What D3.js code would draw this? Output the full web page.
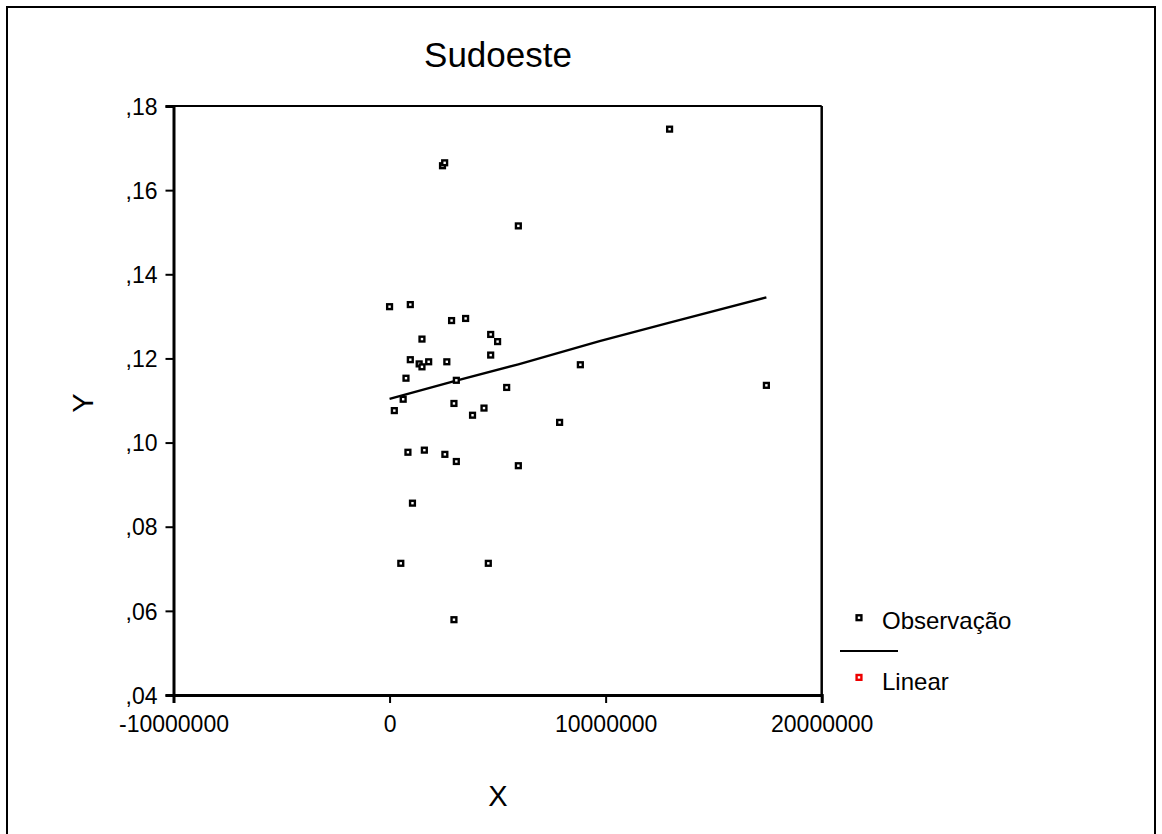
<!DOCTYPE html>
<html>
<head>
<meta charset="utf-8">
<script src="https://cdn.jsdelivr.net/npm/d3@7"></script>
<style>
  body { margin: 0; background: #fff; }
  svg { font-family: "Liberation Sans", Arial, sans-serif; }
</style>
</head>
<body>
<svg width="1162" height="834"></svg>
<script>
const obsX = [2450000, 2550000, 5960000, 12960000, 17440000,
  0, 960000, 2870000, 3520000, 1500000, 4680000, 5000000, 4680000,
  960000, 1370000, 1500000, 1810000, 2650000, 8830000, 760000, 3090000,
  5420000, 630000, 220000, 2980000, 4370000, 3840000, 7870000,
  850000, 1610000, 2560000, 3090000, 5960000,
  1060000, 520000, 4570000, 2980000]
const obsY = [.1658, .1665, .1515, .1745, .1136,
  .1323, .1328, .1290, .1295, .1246, .1257, .1240, .1208,
  .1197, .1187, .1180, .1192, .1192, .1185, .1153, .1148,
  .1131, .1103, .1076, .1093, .1082, .1065, .1048,
  .0977, .0982, .0972, .0955, .0945,
  .0856, .0713, .0713, .0579]

// linear fit line
const fitX = [0, 3000000, 5960000, 9720000, 12960000, 17440000]
const fitY = [.1104, .1146, .1186, .1241, .1285, .1345]

const xTicks = [-10000000, 0, 10000000, 20000000]
const yTicks = [.04, .06, .08, .10, .12, .14, .16, .18]

const svg = d3.select("svg")

const x = d3.scaleLinear().domain([-10000000, 20000000]).range([173.5, 821.7])
const y = d3.scaleLinear().domain([.04, .18]).range([695, 106])

// outer frame
svg.append("rect")
    .attr("x", 7).attr("y", 7)
    .attr("width", 1148).attr("height", 840)
    .attr("fill", "none").attr("stroke", "#000").attr("stroke-width", 2)

// title
svg.append("text")
    .attr("x", 498).attr("y", 67)
    .attr("text-anchor", "middle")
    .attr("font-size", 35)
    .text("Sudoeste")

// plot box: top and right thin
svg.append("line").attr("x1", x(-10000000)).attr("x2", x(20000000))
    .attr("y1", y(.18)).attr("y2", y(.18))
    .attr("stroke", "#000").attr("stroke-width", 2)
svg.append("line").attr("x1", x(20000000)).attr("x2", x(20000000))
    .attr("y1", y(.18)).attr("y2", y(.04))
    .attr("stroke", "#000").attr("stroke-width", 2.5)

// axes
const xAxis = svg.append("g")
    .attr("transform", `translate(0,${y(.04)})`)
    .call(d3.axisBottom(x).tickValues(xTicks).tickSize(8).tickPadding(8)
        .tickFormat(d => String(d)))
const yAxis = svg.append("g")
    .attr("transform", `translate(${x(-10000000)},0)`)
    .call(d3.axisLeft(y).tickValues(yTicks).tickSize(8).tickPadding(8)
        .tickFormat(d => d3.format(".2f")(d).replace("0.", ",")))

for (const g of [xAxis, yAxis]) {
    g.select(".domain").attr("stroke-width", 3)
    g.selectAll(".tick line").attr("stroke-width", 2)
    g.selectAll("text").attr("font-size", 23)
        .attr("font-family", "Liberation Sans, Arial, sans-serif").attr("fill", "#000")
}
yAxis.selectAll("text").attr("dy", "0.36em")
xAxis.selectAll("text").attr("dy", "0.9em")

// axis labels
svg.append("text")
    .attr("x", 498).attr("y", 806)
    .attr("text-anchor", "middle").attr("font-size", 29)
    .text("X")
svg.append("text")
    .attr("transform", "translate(93,403) rotate(-90)")
    .attr("text-anchor", "middle").attr("font-size", 29)
    .text("Y")

// fit line
const line = d3.line().x(d => x(d[0])).y(d => y(d[1]))
svg.append("path")
    .datum(d3.zip(fitX, fitY))
    .attr("d", line)
    .attr("fill", "none").attr("stroke", "#000").attr("stroke-width", 2.4)

// observations
svg.selectAll("rect.obs")
    .data(d3.zip(obsX, obsY)).enter()
    .append("rect")
    .attr("class", "obs")
    .attr("x", d => x(d[0]) - 2.4)
    .attr("y", d => y(d[1]) - 2.4)
    .attr("width", 4.8).attr("height", 4.8)
    .attr("fill", "#fff").attr("stroke", "#000").attr("stroke-width", 2.4)

// legend
const leg = svg.append("g")
leg.append("rect").attr("x", 856.6).attr("y", 615.3).attr("width", 4.8).attr("height", 4.8)
    .attr("fill", "#fff").attr("stroke", "#000").attr("stroke-width", 2.4)
leg.append("text").attr("x", 882).attr("y", 629).attr("font-size", 24).text("Observação")
leg.append("line").attr("x1", 840).attr("x2", 898).attr("y1", 651).attr("y2", 651)
    .attr("stroke", "#000").attr("stroke-width", 2)
leg.append("rect").attr("x", 856.6).attr("y", 675).attr("width", 4.8).attr("height", 4.8)
    .attr("fill", "#fff").attr("stroke", "#e00").attr("stroke-width", 2.4)
leg.append("text").attr("x", 882).attr("y", 690).attr("font-size", 24).text("Linear")
</script>
</body>
</html>
